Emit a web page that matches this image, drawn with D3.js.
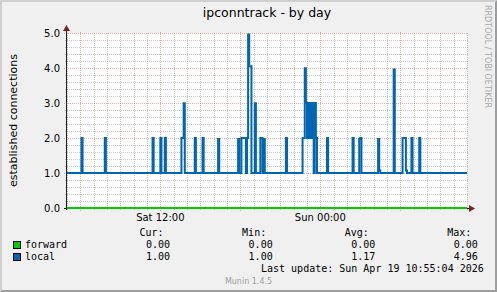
<!DOCTYPE html>
<html>
<head>
<meta charset="utf-8">
<script src="https://cdn.jsdelivr.net/npm/d3@7/dist/d3.min.js"></script>
<style>
  body { margin: 0; background: #f0f0f0; }
  svg { display: block; }
</style>
</head>
<body>
<div id="chart"></div>
<script>
// chart values
const title = "ipconntrack - by day";
const yLabel = "established connections";
const yTicks = [0, 1, 2, 3, 4, 5];
const timeStart = "2026-04-18 05:00";
const timeEnd = "2026-04-19 11:00";
const seriesNames = ["forward", "local"];
const seriesColors = ["#00cc00", "#0066b3"];
const statHeads = ["Cur:", "Min:", "Avg:", "Max:"];
const curVals = ["0.00", "1.00"];
const minVals = ["0.00", "1.00"];
const avgVals = ["0.00", "1.17"];
const maxVals = ["0.00", "4.96"];
const lastUpdate = "Last update: Sun Apr 19 10:55:04 2026";

// step changes (value holds until next entry)
const forwardSteps = [
  ["2026-04-18 05:00", 0], ["2026-04-19 11:00", 0]
];
const localSteps = [
  ["2026-04-18 05:00", 1],
  ["2026-04-18 06:05", 2], ["2026-04-18 06:10", 1],
  ["2026-04-18 07:50", 2], ["2026-04-18 07:55", 1],
  ["2026-04-18 11:25", 2], ["2026-04-18 11:30", 1],
  ["2026-04-18 12:00", 2], ["2026-04-18 12:05", 1],
  ["2026-04-18 12:20", 2], ["2026-04-18 12:25", 1],
  ["2026-04-18 13:35", 2], ["2026-04-18 13:45", 2.99], ["2026-04-18 13:50", 1],
  ["2026-04-18 14:35", 2], ["2026-04-18 14:40", 1],
  ["2026-04-18 15:10", 2], ["2026-04-18 15:15", 1],
  ["2026-04-18 16:20", 1.97], ["2026-04-18 16:25", 1],
  ["2026-04-18 17:50", 1.97], ["2026-04-18 17:55", 1],
  ["2026-04-18 18:05", 2], ["2026-04-18 18:25", 1], ["2026-04-18 18:30", 2],
  ["2026-04-18 18:35", 4.96], ["2026-04-18 18:40", 4.05], ["2026-04-18 18:50", 1],
  ["2026-04-18 19:05", 2.99], ["2026-04-18 19:10", 1],
  ["2026-04-18 19:30", 2], ["2026-04-18 19:40", 1], ["2026-04-18 19:45", 1.97], ["2026-04-18 19:50", 1],
  ["2026-04-18 21:25", 2], ["2026-04-18 21:30", 1],
  ["2026-04-18 22:40", 2], ["2026-04-18 22:50", 3.99], ["2026-04-18 22:55", 3.01],
  ["2026-04-18 23:00", 2], ["2026-04-18 23:05", 3], ["2026-04-18 23:10", 2],
  ["2026-04-18 23:15", 3], ["2026-04-18 23:20", 2], ["2026-04-18 23:25", 3],
  ["2026-04-18 23:30", 1], ["2026-04-18 23:35", 3], ["2026-04-18 23:40", 2], ["2026-04-18 23:45", 1],
  ["2026-04-19 00:30", 2], ["2026-04-19 00:35", 1],
  ["2026-04-19 02:25", 2], ["2026-04-19 02:30", 1],
  ["2026-04-19 02:55", 1.97], ["2026-04-19 03:00", 2], ["2026-04-19 03:05", 1],
  ["2026-04-19 04:20", 1.97], ["2026-04-19 04:25", 1.07], ["2026-04-19 04:30", 1],
  ["2026-04-19 05:30", 3.96], ["2026-04-19 05:35", 1],
  ["2026-04-19 06:10", 2], ["2026-04-19 06:25", 1.07], ["2026-04-19 06:30", 1],
  ["2026-04-19 06:50", 2], ["2026-04-19 06:55", 1],
  ["2026-04-19 07:25", 2], ["2026-04-19 07:30", 1],
  ["2026-04-19 11:00", 1]
];

const W = 497, H = 292;
const plot = { left: 67, right: 467, top: 33, bottom: 208 };
const parse = d3.timeParse("%Y-%m-%d %H:%M");
const fmt = d3.timeFormat("%a %H:%M");
const sans = "'DejaVu Sans', sans-serif";
const mono = "'DejaVu Sans Mono', monospace";

const svg = d3.select("#chart").append("svg")
  .attr("width", W).attr("height", H);

// background and 3d frame
svg.append("rect").attr("width", W).attr("height", H).attr("fill", "#f0f0f0");
svg.append("path").attr("fill", "#cfcfcf")
  .attr("d", `M0,0H${W}L${W-2},2H2V${H-2}L0,${H}Z`);
svg.append("path").attr("fill", "#9e9e9e")
  .attr("d", `M${W},0V${H}H0L2,${H-2}H${W-2}V2Z`);

const x = d3.scaleTime()
  .domain([parse(timeStart), parse(timeEnd)])
  .range([plot.left, plot.right]);
const y = d3.scaleLinear().domain([0, 5]).range([plot.bottom, plot.top]);

svg.append("rect")
  .attr("x", plot.left).attr("y", plot.top)
  .attr("width", plot.right - plot.left).attr("height", plot.bottom - plot.top)
  .attr("fill", "#ffffff");

const px = v => Math.round(v) + 0.5;
const grid = svg.append("g").attr("shape-rendering", "crispEdges");

// minor grid
const minorY = d3.range(0, 5.01, 0.2).filter(v => Math.abs(v - Math.round(v)) > 0.01);
grid.selectAll(".hmin").data(minorY).enter().append("line")
  .attr("x1", plot.left - 2).attr("x2", plot.right + 1)
  .attr("y1", d => px(y(d))).attr("y2", d => px(y(d)))
  .attr("stroke", "rgba(143,143,143,0.5)").attr("stroke-dasharray", "1,1");
const hours = x.ticks(d3.timeHour.every(1)).filter(d => d.getHours() % 6 !== 0);
grid.selectAll(".vmin").data(hours).enter().append("line")
  .attr("x1", d => px(x(d))).attr("x2", d => px(x(d)))
  .attr("y1", plot.top).attr("y2", plot.bottom + 2)
  .attr("stroke", "rgba(143,143,143,0.5)").attr("stroke-dasharray", "1,1");

// major grid
grid.selectAll(".hmaj").data(yTicks).enter().append("line")
  .attr("x1", plot.left - 3).attr("x2", plot.right + 1)
  .attr("y1", d => px(y(d))).attr("y2", d => px(y(d)))
  .attr("stroke", "rgba(222,81,81,0.5)").attr("stroke-dasharray", "1,1");
const sixes = x.ticks(d3.timeHour.every(6));
grid.selectAll(".vmaj").data(sixes).enter().append("line")
  .attr("x1", d => px(x(d))).attr("x2", d => px(x(d)))
  .attr("y1", plot.top - 1).attr("y2", plot.bottom + 3)
  .attr("stroke", "rgba(222,81,81,0.5)").attr("stroke-dasharray", "1,1");

// y tick labels
svg.append("g").selectAll("text").data(yTicks).enter().append("text")
  .attr("x", 60).attr("y", d => y(d) + 3.6)
  .attr("text-anchor", "end")
  .attr("font-family", sans).attr("font-size", 10)
  .text(d => d.toFixed(1));

// x tick labels every 12h
const halves = x.ticks(d3.timeHour.every(12));
svg.append("g").selectAll("text").data(halves).enter().append("text")
  .attr("x", d => x(d)).attr("y", 221)
  .attr("text-anchor", "middle")
  .attr("font-family", sans).attr("font-size", 10)
  .text(d => fmt(d));

// axes
svg.append("line").attr("shape-rendering", "crispEdges")
  .attr("x1", plot.left - 0.5).attr("x2", plot.left - 0.5)
  .attr("y1", plot.bottom + 2).attr("y2", plot.top - 4)
  .attr("stroke", "#1f1f1f");
svg.append("line").attr("shape-rendering", "crispEdges")
  .attr("x1", plot.left - 3).attr("x2", plot.right + 3)
  .attr("y1", plot.bottom + 0.5).attr("y2", plot.bottom + 0.5)
  .attr("stroke", "#1f1f1f");
svg.append("path").attr("fill", "#7f1f1f")
  .attr("d", `M${plot.left - 4},${plot.top - 2}L${plot.left + 3},${plot.top - 2}L${plot.left - 0.5},${plot.top - 8}Z`);
svg.append("path").attr("fill", "#7f1f1f")
  .attr("d", `M${plot.right + 2},${plot.bottom - 3}L${plot.right + 2},${plot.bottom + 4}L${plot.right + 8},${plot.bottom + 0.5}Z`);

// series
const line = d3.line()
  .x(d => x(parse(d[0])))
  .y(d => y(d[1]))
  .curve(d3.curveStepAfter);
[localSteps, forwardSteps].forEach((steps, i) => {
  svg.append("path")
    .datum(steps)
    .attr("d", line)
    .attr("fill", "none")
    .attr("stroke", i === 0 ? seriesColors[1] : seriesColors[0])
    .attr("stroke-width", 2)
    .attr("stroke-linejoin", "miter");
});

// titles
svg.append("text")
  .attr("x", (plot.left + plot.right) / 2).attr("y", 17)
  .attr("text-anchor", "middle")
  .attr("font-family", sans).attr("font-size", 12.5)
  .text(title);
svg.append("text")
  .attr("transform", `translate(16.5,${(plot.top + plot.bottom) / 2}) rotate(-90)`)
  .attr("text-anchor", "middle")
  .attr("font-family", sans).attr("font-size", 11)
  .text(yLabel);
svg.append("text")
  .attr("transform", "translate(485,5) rotate(90)")
  .attr("font-family", sans).attr("font-size", 8)
  .attr("fill", "#a8a8a8")
  .text("RRDTOOL / TOBI OETIKER");

// legend
const colX = d3.range(4).map(i => 139.5 + i * 102.6);
svg.append("g").selectAll("text").data(statHeads).enter().append("text")
  .attr("x", (d, i) => colX[i]).attr("y", 236)
  .attr("font-family", mono).attr("font-size", 10)
  .text(d => d);
const rows = seriesNames.map((n, i) => [n, curVals[i], minVals[i], avgVals[i], maxVals[i]]);
rows.forEach((r, i) => {
  const ry = 248 + i * 12;
  svg.append("rect")
    .attr("x", 13.5).attr("y", ry - 6.5)
    .attr("width", 7).attr("height", 7)
    .attr("fill", seriesColors[i]).attr("stroke", "#000");
  svg.append("text").attr("x", 25).attr("y", ry)
    .attr("font-family", mono).attr("font-size", 10)
    .text(r[0]);
  r.slice(1).forEach((v, j) => {
    svg.append("text").attr("x", colX[j] + 6.5).attr("y", ry)
      .attr("font-family", mono).attr("font-size", 10)
      .text(v);
  });
});
svg.append("text").attr("x", 261).attr("y", 272)
  .attr("font-family", mono).attr("font-size", 10)
  .text(lastUpdate);
svg.append("text").attr("x", W / 2).attr("y", 284)
  .attr("text-anchor", "middle")
  .attr("font-family", sans).attr("font-size", 8)
  .attr("fill", "#a0a0a0")
  .text("Munin 1.4.5");
</script>
</body>
</html>
